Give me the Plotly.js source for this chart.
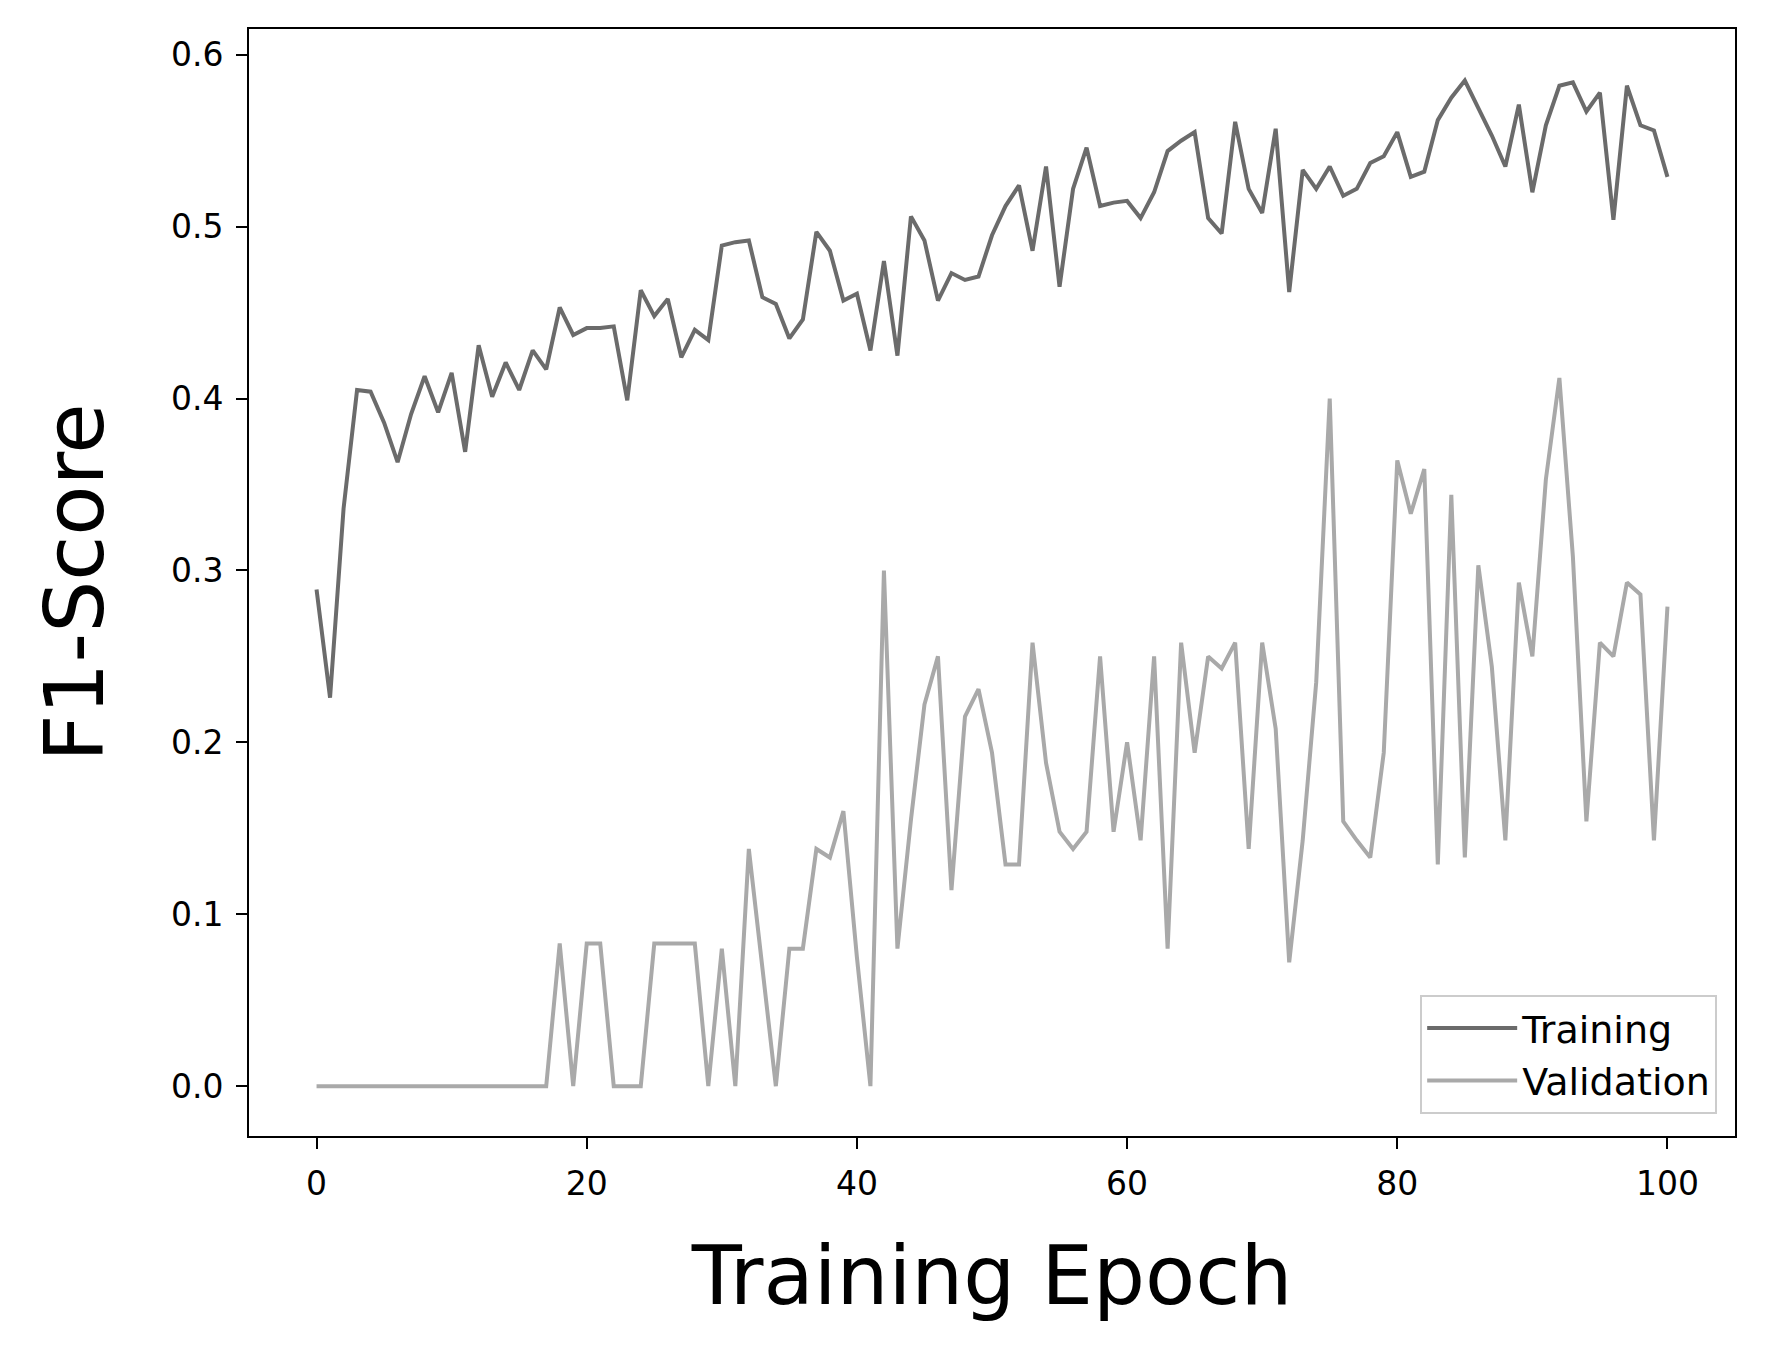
<!DOCTYPE html>
<html>
<head>
<meta charset="utf-8">
<script src="https://cdn.plot.ly/plotly-3.0.1.min.js"></script>
<style>body{margin:0;background:#fff}#chart{width:1766px;height:1360px}</style>
</head>
<body>
<div id="chart"></div>
<script>
// F1 per epoch
var epochs = [];
for (var e = 0; e <= 100; e++) epochs.push(e);

var training = [0.289, 0.226, 0.336, 0.405, 0.404, 0.386, 0.363, 0.391, 0.413, 0.392,
  0.415, 0.369, 0.431, 0.401, 0.421, 0.405, 0.428, 0.417, 0.453, 0.437,
  0.441, 0.441, 0.442, 0.399, 0.463, 0.448, 0.458, 0.424, 0.440, 0.434,
  0.489, 0.491, 0.492, 0.459, 0.455, 0.435, 0.446, 0.497, 0.486, 0.457,
  0.461, 0.428, 0.480, 0.425, 0.506, 0.492, 0.457, 0.473, 0.469, 0.471,
  0.495, 0.512, 0.524, 0.486, 0.535, 0.465, 0.522, 0.546, 0.512, 0.514,
  0.515, 0.505, 0.520, 0.544, 0.550, 0.555, 0.505, 0.496, 0.561, 0.522,
  0.508, 0.557, 0.462, 0.533, 0.522, 0.535, 0.518, 0.522, 0.537, 0.541,
  0.555, 0.529, 0.532, 0.562, 0.575, 0.585, 0.569, 0.553, 0.535, 0.571,
  0.520, 0.559, 0.582, 0.584, 0.567, 0.578, 0.504, 0.582, 0.559, 0.556,
  0.529];

var validation = [0, 0, 0, 0, 0, 0, 0, 0, 0, 0,
  0, 0, 0, 0, 0, 0, 0, 0, 0.083, 0,
  0.083, 0.083, 0, 0, 0, 0.083, 0.083, 0.083, 0.083, 0,
  0.080, 0, 0.138, 0.069, 0, 0.080, 0.080, 0.138, 0.133, 0.160,
  0.075, 0, 0.300, 0.080, 0.155, 0.222, 0.250, 0.114, 0.215, 0.231,
  0.194, 0.129, 0.129, 0.258, 0.188, 0.148, 0.138, 0.148, 0.250, 0.148,
  0.200, 0.143, 0.250, 0.080, 0.258, 0.194, 0.250, 0.243, 0.258, 0.138,
  0.258, 0.208, 0.072, 0.143, 0.235, 0.400, 0.154, 0.143, 0.133, 0.194,
  0.364, 0.333, 0.359, 0.129, 0.344, 0.133, 0.303, 0.244, 0.143, 0.293,
  0.250, 0.353, 0.412, 0.308, 0.154, 0.258, 0.250, 0.293, 0.286, 0.143,
  0.279];

var traces = [
  {x: epochs, y: training, name: 'Training', type: 'scatter', mode: 'lines',
   line: {color: '#6b6b6b', width: 4}},
  {x: epochs, y: validation, name: 'Validation', type: 'scatter', mode: 'lines',
   line: {color: '#a9a9a9', width: 4}}
];

var axisCommon = {showgrid: false, zeroline: false, showline: true, mirror: true,
  linecolor: 'black', linewidth: 2, ticks: 'outside', ticklen: 11, tickwidth: 2,
  tickcolor: 'black', tickfont: {size: 33, color: 'black'}, ticklabelstandoff: 6};

var layout = {
  paper_bgcolor: 'white', plot_bgcolor: 'white',
  font: {family: 'DejaVu Sans', color: 'black'},
  margin: {l: 249, r: 31, t: 29, b: 224},
  xaxis: Object.assign({}, axisCommon, {range: [-5, 105], tickvals: [0, 20, 40, 60, 80, 100],
    title: {text: 'Training Epoch', font: {size: 82}, standoff: 45}}),
  yaxis: Object.assign({}, axisCommon, {range: [-0.029, 0.615],
    tickvals: [0, 0.1, 0.2, 0.3, 0.4, 0.5, 0.6], ticktext: ['0.0', '0.1', '0.2', '0.3', '0.4', '0.5', '0.6'],
    title: {text: 'F1-Score', font: {size: 82}, standoff: 40}}),
  showlegend: true,
  legend: {x: 0.988, y: 0.02, xanchor: 'right', yanchor: 'bottom',
    bgcolor: 'white', bordercolor: '#cccccc', borderwidth: 2,
    font: {size: 38}, itemwidth: 90, tracegroupgap: 10}
};

Plotly.newPlot('chart', traces, layout, {staticPlot: true});
</script>
</body>
</html>
